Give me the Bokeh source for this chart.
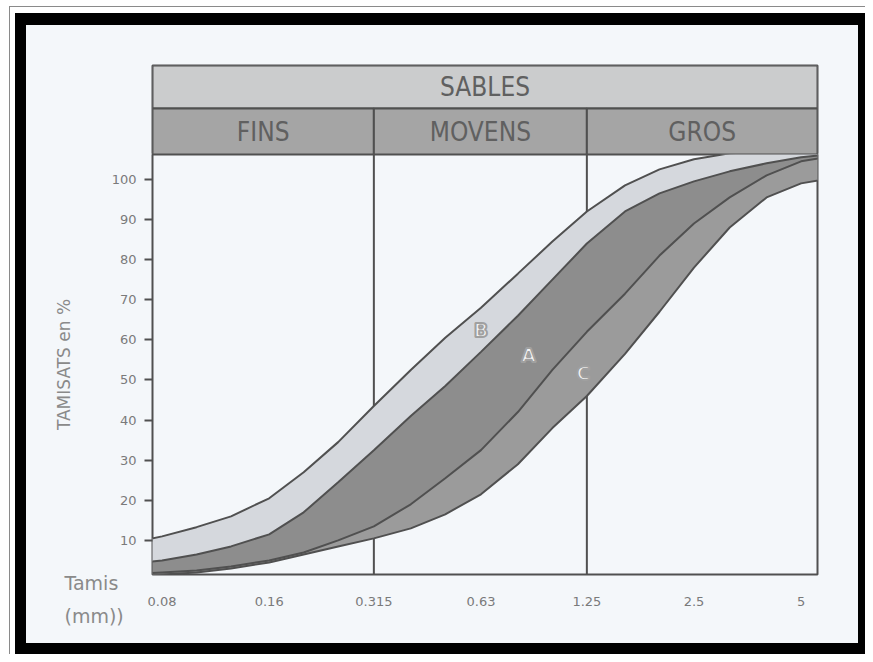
from bokeh.plotting import figure
from bokeh.layouts import column
from bokeh.models import (Range1d, FixedTicker, CustomJSTickFormatter, Span, Title)
from bokeh.core.properties import value
from bokeh.embed import file_html
from bokeh.resources import INLINE

# ---------------- data ----------------
sieves = [0.063, 0.08, 0.1, 0.125, 0.16, 0.2, 0.25, 0.315, 0.4, 0.5, 0.63,
          0.8, 1.0, 1.25, 1.6, 2.0, 2.5, 3.15, 4.0, 5.0, 6.3]
upper_b = [9.0, 11.0, 13.3, 16.0, 20.5, 27.0, 34.5, 43.5, 52.5, 60.5, 68.0,
           76.5, 84.5, 92.0, 98.5, 102.5, 105.0, 106.5, 107.0, 107.5, 108.0]
limit_ba = [4.0, 5.0, 6.5, 8.5, 11.5, 17.0, 24.5, 32.5, 41.0, 48.5, 57.0,
            66.0, 75.0, 84.0, 92.0, 96.5, 99.5, 102.0, 104.0, 105.5, 106.5]
limit_ac = [1.5, 2.0, 2.5, 3.5, 5.0, 7.0, 10.0, 13.5, 19.0, 25.5, 32.5,
            42.0, 52.5, 62.0, 71.5, 81.0, 89.0, 95.5, 101.0, 104.5, 106.0]
lower_c = [1.0, 1.5, 2.0, 3.0, 4.5, 6.5, 8.5, 10.5, 13.0, 16.5, 21.5,
           29.0, 38.0, 46.0, 56.5, 67.0, 78.0, 88.0, 95.5, 99.0, 100.5]

tick_sieves = [0.08, 0.16, 0.315, 0.63, 1.25, 2.5, 5]
y_ticks = [10, 20, 30, 40, 50, 60, 70, 80, 90, 100]

zone_names = ["B", "A", "C"]
zone_x = [0.63, 0.857, 1.223]
zone_y = [62.5, 56.2, 51.8]

group_name = "SABLES"
class_names = ["FINS", "MOVENS", "GROS"]
class_limits = [0.315, 1.25]

# ---------------- styling ----------------
X0, X1 = 0.0752, 5.56
Y0, Y1 = 1.5, 106.2
PANEL = "#f4f7fa"
DARK = "#505050"
TXT = "#7a7a7a"
HDR_FONT = "'Liberation Sans Narrow', 'DejaVu Sans Condensed', 'Liberation Sans', sans-serif"
W = 832
ML, MR = 126, 41

x_range = Range1d(X0, X1)

# ---------- header table (SABLES / FINS MOVENS GROS) ----------
hdr = figure(width=W, height=129, x_axis_type="log", x_range=x_range,
             y_range=Range1d(0, 89), x_axis_location=None, y_axis_location=None,
             output_backend="svg", toolbar_location=None,
             min_border_left=ML, min_border_right=MR,
             min_border_top=40, min_border_bottom=0)
hdr.border_fill_color = PANEL
hdr.background_fill_color = PANEL
hdr.outline_line_color = DARK
hdr.outline_line_width = 2
hdr.grid.visible = False

edges = [X0] + class_limits + [X1]
hdr.quad(left=[X0], right=[X1], bottom=[46], top=[89],
         fill_color="#cbcccd", line_color=DARK, line_width=2)
hdr.quad(left=edges[:-1], right=edges[1:], bottom=[0] * 3, top=[46] * 3,
         fill_color="#a5a5a5", line_color=DARK, line_width=2)
centers = [(edges[i] * edges[i + 1]) ** 0.5 for i in range(3)]
hdr.text(x=centers, y=[23] * 3, text=class_names, text_align="center",
         text_baseline="middle", text_font=value(HDR_FONT),
         text_font_size="26px", text_color="#606060")
hdr.text(x=[(X0 * X1) ** 0.5], y=[67.5], text=[group_name], text_align="center",
         text_baseline="middle", text_font=value(HDR_FONT),
         text_font_size="26px", text_color="#606060")

# ---------- main grading chart ----------
p = figure(width=W, height=489, x_axis_type="log", x_range=x_range,
           y_range=Range1d(Y0, Y1), output_backend="svg", toolbar_location=None,
           min_border_left=ML, min_border_right=MR,
           min_border_top=0, min_border_bottom=69)
p.border_fill_color = PANEL
p.background_fill_color = PANEL
p.grid.visible = False
p.outline_line_color = DARK
p.outline_line_width = 2
p.outline_line_alpha = 1

for loc in class_limits:
    p.add_layout(Span(location=loc, dimension="height", line_color=DARK,
                      line_width=2, level="underlay"))

p.varea(x=sieves, y1=limit_ba, y2=upper_b, fill_color="#d5d8dd")
p.varea(x=sieves, y1=limit_ac, y2=limit_ba, fill_color="#8d8d8d")
p.varea(x=sieves, y1=lower_c, y2=limit_ac, fill_color="#9b9b9b")
for curve in (upper_b, limit_ba, limit_ac, lower_c):
    p.line(sieves, curve, line_color=DARK, line_width=2)

p.text(x=zone_x, y=zone_y, text=zone_names, text_color="#f4f4f4",
       text_outline_color="#a0a0a0", text_font_style="bold",
       text_font_size="19px", text_align="center", text_baseline="middle",
       text_font=value("DejaVu Sans"))

xa = p.xaxis[0]
xa.ticker = FixedTicker(ticks=tick_sieves)
xa.formatter = CustomJSTickFormatter(code="return String(tick)")
xa.axis_line_color = None
xa.major_tick_line_color = None
xa.minor_tick_line_color = None
xa.major_tick_out = 0
xa.major_tick_in = 0
xa.major_label_standoff = 22
xa.major_label_text_font = "DejaVu Sans"
xa.major_label_text_font_size = "13px"
xa.major_label_text_color = TXT

ya = p.yaxis[0]
ya.ticker = FixedTicker(ticks=y_ticks)
ya.axis_line_color = None
ya.major_tick_out = 8
ya.major_tick_in = 0
ya.major_tick_line_width = 2
ya.major_tick_line_color = DARK
ya.minor_tick_line_color = None
ya.major_label_standoff = 8
ya.major_label_text_font = "DejaVu Sans"
ya.major_label_text_font_size = "13px"
ya.major_label_text_color = TXT
ya.axis_label = "TAMISATS en %"
ya.axis_label_text_font = "DejaVu Sans"
ya.axis_label_text_font_size = "17px"
ya.axis_label_text_font_style = "normal"
ya.axis_label_text_color = "#8a8a8a"
ya.axis_label_standoff = 35

# "Tamis (mm))" caption, bottom-left
cap = Title(text="Tamis\n(mm))", align="left", vertical_align="top",
            offset=-88, standoff=-74, text_font="DejaVu Sans",
            text_font_size="19px", text_font_style="normal",
            text_color="#8a8a8a", text_line_height=1.5)
p.add_layout(cap, "below")

# ---------- scanned frame around the figure ----------
inner = column(hdr, p, styles={"border-style": "solid", "border-color": "black",
                               "border-width": "12px 7px 11px 11px",
                               "background-color": PANEL})
mid = column(inner, styles={"border-top": "1px solid #8a8a8a",
                            "border-left": "1px solid #8a8a8a",
                            "padding": "6px 0px 0px 5px",
                            "background-color": "white"})
page = column(mid, styles={"padding": "6px 0px 0px 9px",
                           "background-color": "white"})

open("out.html", "w").write(file_html(page, INLINE))
